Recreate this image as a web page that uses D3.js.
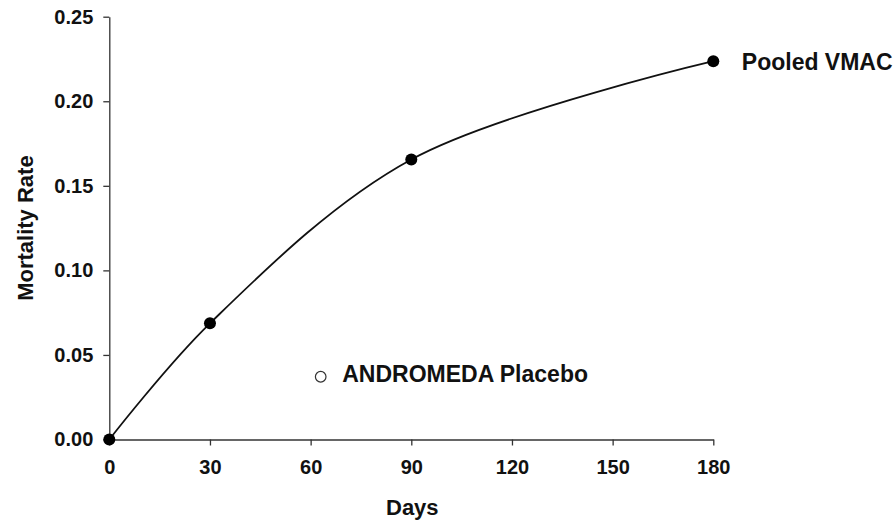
<!DOCTYPE html>
<html>
<head>
<meta charset="utf-8">
<script src="https://cdn.jsdelivr.net/npm/d3@7/dist/d3.min.js"></script>
<style>
  html, body { margin: 0; padding: 0; background: #fff; }
  svg { display: block; }
  text { font-family: "Liberation Sans", Arial, sans-serif; font-weight: bold; fill: #111; }
</style>
</head>
<body>
<svg id="chart" width="896" height="522"></svg>
<script>
// Data
const vmacDays = [0, 30, 90, 180];
const vmacRate = [0.0, 0.0687, 0.1656, 0.2237];
const placeboDays = [63];
const placeboRate = [0.0371];
const xTicks = [0, 30, 60, 90, 120, 150, 180];
const yTicks = [0.00, 0.05, 0.10, 0.15, 0.20, 0.25];
const seriesLabels = ["Pooled VMAC", "ANDROMEDA Placebo"];
const xTitle = "Days";
const yTitle = "Mortality Rate";

const svg = d3.select("#chart");
const x = d3.scaleLinear().domain([0, 180]).range([109.3, 713.3]);
const y = d3.scaleLinear().domain([0, 0.25]).range([439.5, 16.7]);

const axisColor = "#333";

// Y axis
const yAxis = svg.append("g")
  .attr("transform", `translate(${x(0)},0)`)
  .call(d3.axisLeft(y).tickValues(yTicks).tickFormat(d3.format(".2f")).tickSize(6).tickPadding(10).tickSizeOuter(0));
yAxis.select(".domain").attr("stroke", axisColor).attr("stroke-width", 1.3);
yAxis.selectAll(".tick line").attr("stroke", axisColor).attr("stroke-width", 1.3);
yAxis.selectAll(".tick text").style("font-size", "20px").attr("fill", "#111");

// X axis
const xAxis = svg.append("g")
  .attr("transform", `translate(0,${y(0)})`)
  .call(d3.axisBottom(x).tickValues(xTicks).tickFormat(d3.format("d")).tickSize(6).tickPadding(14).tickSizeOuter(0));
xAxis.select(".domain").attr("stroke", axisColor).attr("stroke-width", 1.3);
xAxis.selectAll(".tick line").attr("stroke", axisColor).attr("stroke-width", 1.3);
xAxis.selectAll(".tick text").style("font-size", "20px").attr("fill", "#111");

// Titles
svg.append("text")
  .attr("x", (x(0) + x(180)) / 2 + 1)
  .attr("y", 515)
  .attr("text-anchor", "middle")
  .style("font-size", "22px")
  .text(xTitle);

svg.append("text")
  .attr("transform", `translate(33,${(y(0) + y(0.25)) / 2 + 0})rotate(-90)`)
  .attr("text-anchor", "middle")
  .style("font-size", "22px")
  .text(yTitle);

// Curve
const vmac = vmacDays.map((d, i) => ({ d, r: vmacRate[i] }));
const line = d3.line()
  .x(p => x(p.d))
  .y(p => y(p.r))
  .curve(d3.curveCatmullRom.alpha(0.5));

svg.append("path")
  .datum(vmac)
  .attr("d", line)
  .attr("fill", "none")
  .attr("stroke", "#111")
  .attr("stroke-width", 1.8);

svg.selectAll("circle.vmac")
  .data(vmac)
  .enter().append("circle")
  .attr("class", "vmac")
  .attr("cx", p => x(p.d))
  .attr("cy", p => y(p.r))
  .attr("r", 6)
  .attr("fill", "#000");

const placebo = placeboDays.map((d, i) => ({ d, r: placeboRate[i] }));
svg.selectAll("circle.plc")
  .data(placebo)
  .enter().append("circle")
  .attr("class", "plc")
  .attr("cx", p => x(p.d))
  .attr("cy", p => y(p.r))
  .attr("r", 5.3)
  .attr("fill", "#fff")
  .attr("stroke", "#333")
  .attr("stroke-width", 1.2);

// Labels
const last = vmac[vmac.length - 1];
svg.append("text")
  .attr("x", x(last.d) + 28.5)
  .attr("y", y(last.r) + 9)
  .style("font-size", "23px")
  .text(seriesLabels[0]);

svg.append("text")
  .attr("x", x(placebo[0].d) + 21.5)
  .attr("y", y(placebo[0].r) + 5.5)
  .style("font-size", "23px")
  .text(seriesLabels[1]);
</script>
</body>
</html>
